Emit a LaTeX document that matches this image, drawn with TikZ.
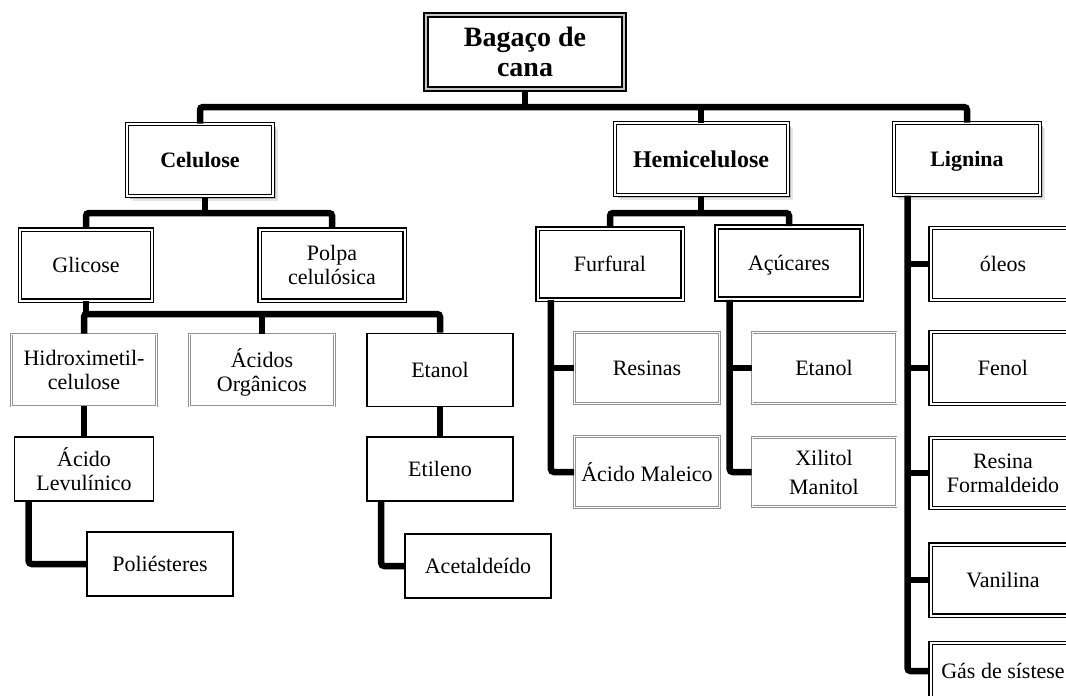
\documentclass[tikz,border=0pt]{standalone}
\usepackage{fontspec}
\setmainfont{Liberation Serif}
\tikzset{
  every node/.style={align=center, inner sep=0pt, fill=white, text depth=0pt, font=\fontsize{22}{24}\selectfont},
  topbox/.style={draw, line width=2pt, double=gray!45, double distance=1.5pt,
    minimum width=198pt, minimum height=74pt, font=\bfseries\fontsize{28}{30}\selectfont},
  headbox/.style={draw, line width=1pt, double=white, double distance=2pt, minimum height=72pt,
    preaction={fill=gray!20, draw=none, transform canvas={shift={(5pt,-5pt)}}},
    preaction={fill=gray!55, draw=none, transform canvas={shift={(3pt,-3pt)}}},
    font=\bfseries\fontsize{22}{24}\selectfont},
  dblbox/.style={draw, line width=1.1pt, double=white, double distance=2pt, minimum width=145pt, minimum height=71pt},
  graybox/.style={draw=gray!85, line width=0.9pt, double=white, double distance=0.9pt, minimum width=145pt, minimum height=72pt},
  blackbox/.style={draw, line width=1.6pt, minimum width=146pt, minimum height=64pt},
  link/.style={line width=6.5pt, rounded corners=3pt},
}
\begin{document}
\begin{tikzpicture}[x=1pt, y=-1pt]
  \useasboundingbox (0,0) rectangle (1066,696);
  \clip (0,0) rectangle (1066,696);
  \coordinate (lvl1) at (0,107);
  \coordinate (lvl2) at (0,213);
  \coordinate (lvl3) at (0,314);

  \node[topbox] (bagaco) at (525,52) {Bagaço de\\cana};
  \node[headbox, minimum width=146pt] (celulose) at (200,160) {Celulose};
  \node[headbox, minimum width=173pt, font=\bfseries\fontsize{24}{26}\selectfont] (hemi) at (701,159) {Hemicelulose};
  \node[headbox, minimum width=146pt] (lignina) at (967,159) {Lignina};

  \node[dblbox, minimum width=132pt] (glicose) at (86,265) {Glicose};
  \node[dblbox] (polpa) at (332,265) {Polpa\\celulósica};
  \node[dblbox] (furfural) at (610,264) {Furfural};
  \node[dblbox, line width=1.6pt, minimum height=72pt] (acucares) at (789,263) {Açúcares};

  \node[graybox] (hidroxi) at (84,370) {Hidroximetil-\\celulose};
  \node[graybox] (acidos) at (262,370) {Ácidos\\Orgânicos};
  \node[blackbox, minimum height=73pt] (etanolA) at (440,370) {Etanol};
  \node[blackbox, minimum width=139pt] (levul) at (84,469) {Ácido\\Levulínico};
  \node[blackbox] (poliest) at (160,564) {Poliésteres};
  \node[blackbox] (etileno) at (440,469) {Etileno};
  \node[blackbox] (acetal) at (478,566) {Acetaldeído};

  \node[graybox, minimum height=71pt] (resinas) at (647,368) {Resinas};
  \node[graybox, minimum height=71pt] (maleico) at (647,472) {Ácido Maleico};
  \node[graybox, minimum width=144pt, minimum height=71pt] (etanolB) at (824,368) {Etanol};
  \node[graybox, minimum width=144pt, minimum height=69pt] (xilitol) at (824,472) {Xilitol\\[5pt]Manitol};

  \node[dblbox, minimum height=72pt] (oleos) at (1003,264) {óleos};
  \node[dblbox, minimum height=72pt] (fenol) at (1003,368) {Fenol};
  \node[dblbox, minimum height=70pt] (resina) at (1003,473) {Resina\\Formaldeido};
  \node[dblbox, minimum height=71pt] (vanilina) at (1003,580) {Vanilina};
  \node[dblbox, minimum height=56pt] (gas) at (1003,671) {Gás de sístese};

  \draw[link] (bagaco.south) -- (bagaco.south |- lvl1);
  \draw[link] (celulose.north) |- (lignina.north |- lvl1) -- (lignina.north);
  \draw[link] (hemi.north) -- (hemi.north |- lvl1);

  \draw[link] ([xshift=5pt]celulose.south) -- ([xshift=5pt]celulose.south |- lvl2);
  \draw[link] (glicose.north) |- (polpa.north |- lvl2) -- (polpa.north);
  \draw[link] (hemi.south) -- (hemi.south |- lvl2);
  \draw[link] (furfural.north) |- (acucares.north |- lvl2) -- (acucares.north);

  \draw[link] (glicose.south) -- (glicose.south |- lvl3);
  \draw[link] (hidroxi.north) |- (etanolA.north |- lvl3) -- (etanolA.north);
  \draw[link] (acidos.north) -- (acidos.north |- lvl3);

  \draw[link] (hidroxi.south) -- (levul.north);
  \draw[link] ([xshift=15pt]levul.south west) |- (poliest.west);
  \draw[link] (etanolA.south) -- (etileno.north);
  \draw[link] ([xshift=15pt]etileno.south west) |- (acetal.west);

  \draw[link] ([xshift=14pt]furfural.south west) coordinate (ftrunk) |- (maleico.west);
  \draw[link] (resinas.west) -- (resinas.west -| ftrunk);
  \draw[link] ([xshift=14pt]acucares.south west) coordinate (atrunk) |- (xilitol.west);
  \draw[link] (etanolB.west) -- (etanolB.west -| atrunk);

  \draw[link] ([xshift=14pt]lignina.south west) coordinate (ltrunk) |- (gas.west);
  \foreach \n in {oleos, fenol, resina, vanilina}
    \draw[link] (\n.west) -- (\n.west -| ltrunk);
\end{tikzpicture}
\end{document}
